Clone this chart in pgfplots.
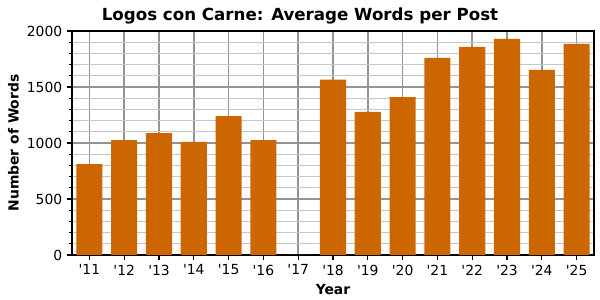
\documentclass[border=0pt]{standalone}
\usepackage{fontspec}
\setmainfont{DejaVu Sans}
\usepackage{pgfplots}
\pgfplotsset{compat=1.18}
\definecolor{barc}{HTML}{CC6600}
\begin{document}
\begin{tikzpicture}
\useasboundingbox (-51.84pt,-32.4pt) rectangle (380.16pt,183.6pt);
\begin{axis}[
  at={(0,0)}, anchor=south west,
  scale only axis, width=375.84pt, height=161.28pt,
  xmin=10.5, xmax=25.5, ymin=0, ymax=2000,
  xtick={11,...,25},
  xticklabels={\textquotesingle11,\textquotesingle12,\textquotesingle13,\textquotesingle14,\textquotesingle15,\textquotesingle16,\textquotesingle17,\textquotesingle18,\textquotesingle19,\textquotesingle20,\textquotesingle21,\textquotesingle22,\textquotesingle23,\textquotesingle24,\textquotesingle25},
  ytick={0,500,...,2000},
  minor x tick num=0,
  minor y tick num=4,
  xmajorgrids, ymajorgrids, yminorgrids,
  major grid style={line width=1.1pt, color=black!42},
  minor grid style={line width=0.7pt, color=black!22},
  tick align=outside,
  major tick length=3.5pt, minor tick length=2pt,
  tick style={black, line width=0.8pt},
  xtick pos=bottom, ytick pos=left,
  axis line style={line width=0.8pt},
  /pgf/number format/assume math mode=true,
  /pgf/number format/set thousands separator={},
  ticklabel style={font=\fontsize{10}{12}\selectfont},
  title={Logos con Carne: Average Words per Post},
  title style={font=\bfseries\fontsize{12}{14}\selectfont, yshift=-4.5pt, xshift=-23.76pt},
  xlabel={Year},
  ylabel={Number of Words},
  label style={font=\bfseries\fontsize{10}{12}\selectfont},
  xlabel style={yshift=0pt},
  ylabel style={yshift=-1pt},
]
\addplot[ybar, bar width=0.75, fill=barc, draw=none] coordinates {
(11,812) (12,1025) (13,1088) (14,1010) (15,1240) (16,1025) (17,0)
(18,1565) (19,1278) (20,1410) (21,1760) (22,1858) (23,1930) (24,1652) (25,1885)
};
\end{axis}
\end{tikzpicture}
\end{document}
